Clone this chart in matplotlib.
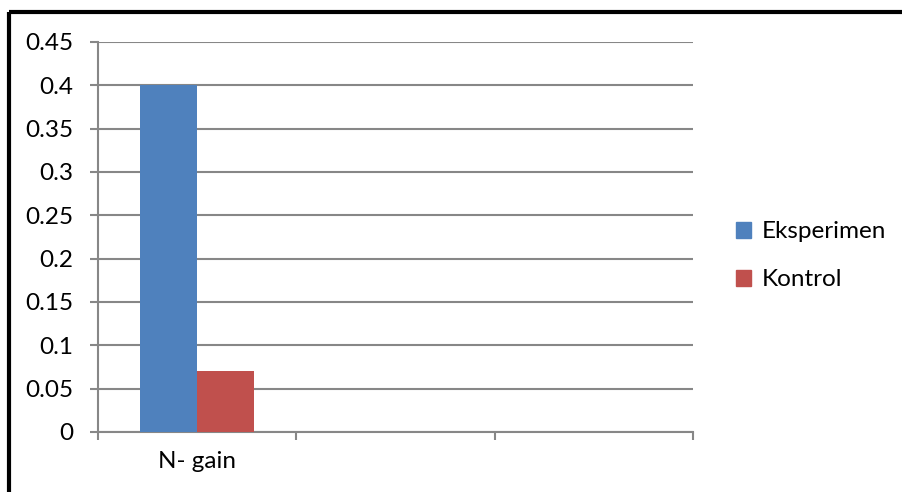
import numpy as np
import matplotlib
matplotlib.use('agg')
import matplotlib.pyplot as plt
from matplotlib.lines import Line2D

plt.rcParams['font.family'] = ['Lato', 'DejaVu Sans']

# data
categories = ['N- gain', '', '']
series_names = ['Eksperimen', 'Kontrol']
eksperimen = [0.40, np.nan, np.nan]
kontrol = [0.07, np.nan, np.nan]
colors = ['#4F81BD', '#C0504D']
yticks = [0, 0.05, 0.1, 0.15, 0.2, 0.25, 0.3, 0.35, 0.4, 0.45]
ytick_labels = ['0', '0.05', '0.1', '0.15', '0.2', '0.25', '0.3', '0.35', '0.4', '0.45']

grid_col = '#878787'
fs = 17.5

fig = plt.figure(figsize=(9.02, 4.92), dpi=100)
ax = fig.add_axes([0.1086, 0.122, 0.6597, 0.7927])

x = np.arange(len(categories))
w = 1.0 / 3.5
ax.bar(x - w / 2, eksperimen, w, color=colors[0], label=series_names[0], zorder=3)
ax.bar(x + w / 2, kontrol, w, color=colors[1], label=series_names[1], zorder=3)

ax.set_xlim(-0.5, len(categories) - 0.5)
ax.set_ylim(0, 0.45)
ax.set_yticks(yticks)
ax.set_yticklabels(ytick_labels, fontsize=fs)
ax.yaxis.grid(True, color=grid_col, linewidth=1.5, zorder=0)

# category labels in the middle, tick marks on the boundaries
ax.set_xticks(x)
ax.set_xticklabels(categories, fontsize=fs)
ax.set_xticks(np.arange(len(categories) + 1) - 0.5, minor=True)
ax.tick_params(axis='x', which='major', length=0, pad=14)
ax.tick_params(axis='x', which='minor', length=6, width=1.5, color=grid_col)
ax.tick_params(axis='y', length=6, width=1.5, color=grid_col, pad=12, direction='out')

for s in ['top', 'right']:
    ax.spines[s].set_visible(False)
for s in ['left', 'bottom']:
    ax.spines[s].set_color(grid_col)
    ax.spines[s].set_linewidth(1.5)

handles = [plt.Rectangle((0, 0), 1, 1, color=c) for c in colors]
fig.legend(handles, series_names, loc='center left', bbox_to_anchor=(0.816, 0.48),
           frameon=False, fontsize=fs, handlelength=0.62, handleheight=0.62,
           handletextpad=0.45, labelspacing=1.12, borderpad=0, borderaxespad=0)

# outer frame (top and left edges)
fig.add_artist(Line2D([0.0099, 1.0], [0.9756, 0.9756], color='black', linewidth=3,
                      transform=fig.transFigure, solid_capstyle='butt'))
fig.add_artist(Line2D([0.0099, 0.0099], [0.0, 0.9756], color='black', linewidth=3,
                      transform=fig.transFigure, solid_capstyle='butt'))

fig.savefig('out.png', dpi=100)
